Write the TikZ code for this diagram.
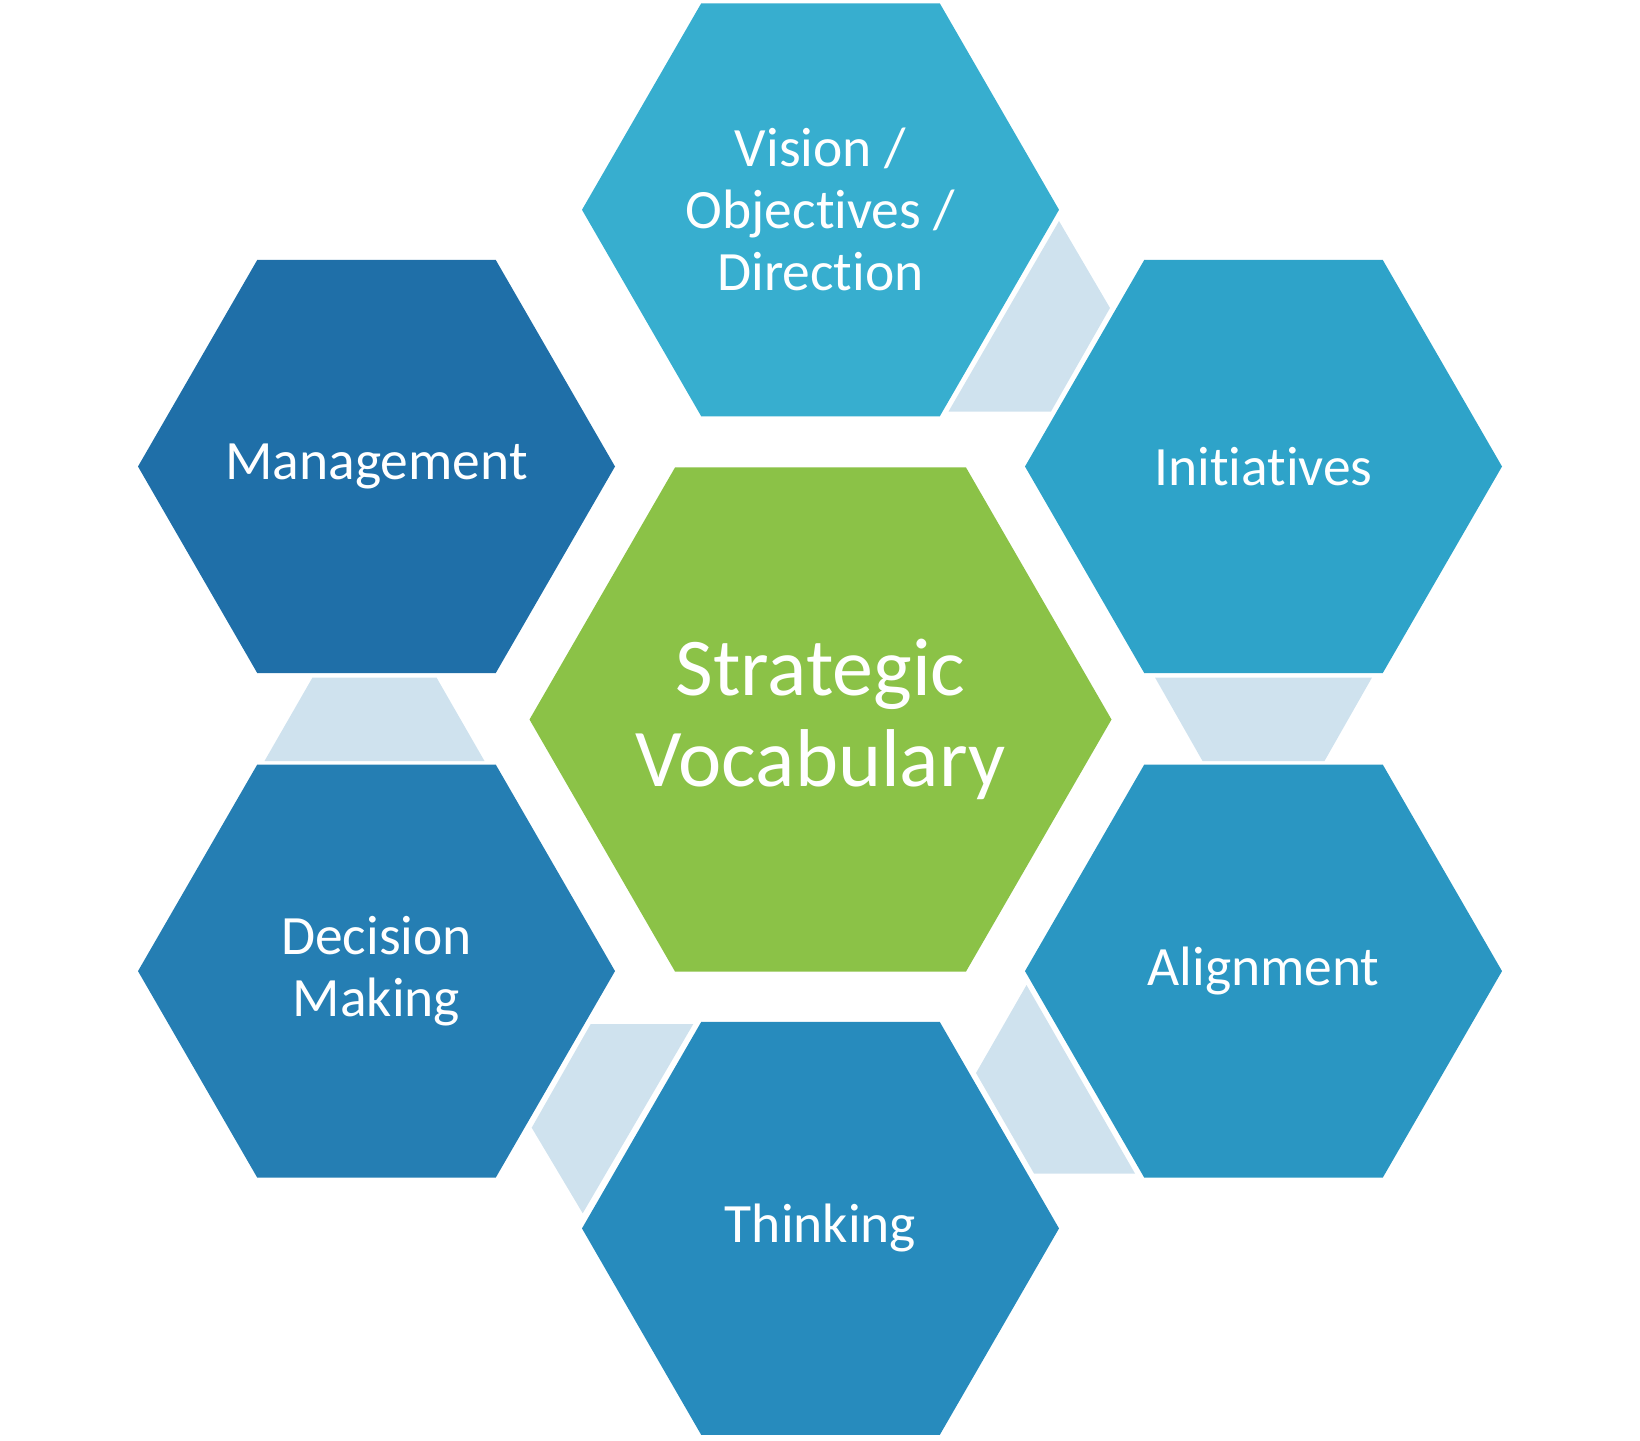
\documentclass[tikz,border=0pt]{standalone}
\usepackage{fontspec}
\setmainfont{Carlito}[Ligatures={NoCommon,NoContextual}]
\usetikzlibrary{shapes.geometric}
\definecolor{cVis}{HTML}{37AECF}
\definecolor{cIni}{HTML}{2EA3C9}
\definecolor{cAli}{HTML}{2A96C2}
\definecolor{cThi}{HTML}{278BBD}
\definecolor{cDec}{HTML}{257EB3}
\definecolor{cMan}{HTML}{1F6FA8}
\definecolor{cCore}{HTML}{8BC247}
\definecolor{cLink}{HTML}{CFE2EE}
\begin{document}
\begin{tikzpicture}[x=1pt,y=-1pt,
  hexa/.style={regular polygon, regular polygon sides=6, minimum size=477pt,
    inner sep=0pt, outer sep=0pt},
  hextext/.style={text=white, align=center, inner sep=0pt,
    font=\fontsize{55.5}{62}\selectfont},
  linkpiece/.style={fill=cLink}]
\useasboundingbox (0,0) rectangle (1640,1440);
% connector pieces
\fill[linkpiece] (1059,221) -- (1110,308) -- (1051,411.5) -- (948.5,411.5) -- cycle;
\fill[linkpiece] (1155,677.5) -- (1372,677.5) -- (1324.5,761) -- (1202.5,761) -- cycle;
\fill[linkpiece] (1026.5,985) -- (976,1073) -- (1034,1173.5) -- (1135,1173.5) -- cycle;
\fill[linkpiece] (693.3,1024) -- (590.7,1024) -- (531.7,1127.7) -- (582.7,1213.3) -- cycle;
\fill[linkpiece] (312.5,677.5) -- (436.5,677.5) -- (484.5,761) -- (264.5,761) -- cycle;
% hexagons
\node[hexa, fill=cVis] (vis) at (820.5,209.8) {};
\node[hexa, fill=cIni] (ini) at (1263.5,466.5) {};
\node[hexa, fill=cAli] (ali) at (1263.5,971.1) {};
\node[hexa, fill=cThi] (thi) at (820.5,1228.4) {};
\node[hexa, fill=cDec] (dec) at (376.5,971.1) {};
\node[hexa, fill=cMan] (man) at (376.5,466.5) {};
\node[hexa, fill=cCore, minimum size=582pt] (core) at (820.5,719.5) {};
% labels
\node[hextext] (vis-t) at (vis.center) {Vision /\\Objectives /\\Direction};
\node[hextext] (ini-t) at (ini.center) {Initiatives};
\node[hextext] (ali-t) at (ali.center) {Alignment};
\node[hextext] (thi-t) at (thi.center) {Thinking};
\node[hextext] (dec-t) at (dec.center) {Decision\\Making};
\node[hextext] (man-t) at (man.center) {Management};
\node[hextext, font=\fontsize{82}{91}\selectfont] (core-t) at (core.center) {Strategic\\Vocabulary};
\end{tikzpicture}
\end{document}
